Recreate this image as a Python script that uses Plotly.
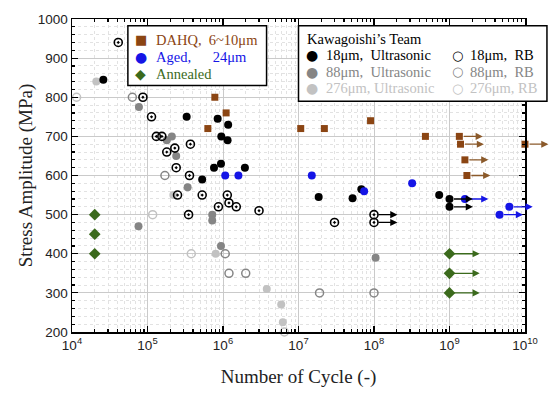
import math
import plotly.graph_objects as go

# ---------------- data ----------------
dahq_n = [6.3e5, 7.8e5, 1.1e6, 1.07e7, 2.2e7, 9.0e7, 4.8e8, 1.35e9, 1.4e9, 1.6e9, 1.7e9, 1.0e10]
dahq_s = [720, 800, 760, 720, 720, 740, 700, 700, 680, 640, 600, 680]
dahq_runout = [0, 0, 0, 0, 0, 0, 0, 1, 1, 1, 1, 1]

aged_n = [1.07e6, 1.6e6, 1.5e7, 7.4e7, 3.2e8, 1.6e9, 4.6e9, 6.2e9]
aged_s = [600, 600, 600, 560, 580, 540, 500, 520]
aged_runout = [0, 0, 0, 0, 0, 1, 1, 1]

ann_n = [2e4, 2e4, 2e4, 1e9, 1e9, 1e9]
ann_s = [500, 450, 400, 400, 350, 300]
ann_runout = [0, 0, 0, 1, 1, 1]

k18us_n = [2.6e4, 3.3e5, 5.3e5, 7.6e5, 8.5e5, 9.4e5, 9.5e5, 1.15e6, 1.17e6, 1.95e6,
           1.85e7, 5.2e7, 6.8e7, 7.3e8, 1e9, 1e9]
k18us_s = [845, 750, 590, 620, 745, 630, 700, 690, 730, 620, 545, 542, 565, 550, 540, 520]
k18us_runout = [0] * 14 + [1, 1]

k88us_n = [7.7e4, 7.6e4, 1.8e5, 2.1e5, 2.4e5, 3.4e5, 7.2e5, 7.2e5, 9.4e5, 1.05e8]
k88us_s = [775, 470, 690, 700, 650, 570, 500, 485, 420, 390]

k276us_n = [2.1e4, 2.2e5, 8e5, 3.8e6, 5.9e6, 6.2e6, 4.2e8]
k276us_s = [840, 550, 400, 310, 270, 225, 195]

k18rb_n = [4.1e4, 8.7e4, 1.13e5, 1.31e5, 1.55e5, 1.8e5, 2.3e5, 2.4e5, 3.6e5, 3.7e5, 2.5e5,
           5.3e5, 1.14e6, 8.7e5, 1.2e6, 1.5e6, 3e6, 3.5e5, 3.0e7, 1e8, 1e8]
k18rb_s = [940, 800, 750, 700, 700, 660, 670, 620, 600, 680, 550,
           550, 550, 520, 530, 520, 510, 500, 480, 500, 480]
k18rb_runout = [0] * 19 + [1, 1]

k88rb_n = [6.3e4, 1.7e5, 1.07e6, 1.2e6, 2e6, 1.9e7, 1e8]
k88rb_s = [800, 600, 400, 350, 350, 300, 300]

k276rb_n = [1.15e4, 1.17e5, 3.8e5, 6.5e6]
k276rb_s = [800, 500, 400, 200]

x_tickvals = [1e4, 1e5, 1e6, 1e7, 1e8, 1e9, 1e10]
x_ticktext = ["10<sup>4</sup>", "10<sup>5</sup>", "10<sup>6</sup>", "10<sup>7</sup>",
              "10<sup>8</sup>", "10<sup>9</sup>", "10<sup>10</sup>"]

legend1_labels = ["DAHQ,\u00a0\u00a06~10μm", "Aged,\u00a0\u00a0\u00a0\u00a0\u00a0\u00a024μm", "Annealed"]
legend2_title = "Kawagoishi’s Team"
legend2_us = ["18μm,\u00a0\u00a0Ultrasonic", "88μm,\u00a0\u00a0Ultrasonic", "276μm,\u00a0Ultrasonic"]
legend2_rb = ["18μm,\u00a0\u00a0RB", "88μm,\u00a0\u00a0RB", "276μm,\u00a0RB"]

# ---------------- style ----------------
BROWN = "#8B4513"
BROWN_ARROW = "#8B5A2B"
BLUE = "#1515e6"
GREEN = "#3b6a1c"
BLACK = "#000000"
GRAY = "#858585"
LGRAY = "#c2c2c2"
SERIF = "Liberation Serif, Times New Roman, serif"
SANS = "Liberation Sans, Arial, sans-serif"
GLYPH = "DejaVu Sans, sans-serif"

# plot-area geometry (px) used to place the hand-built legend boxes
L, R, T, B = 72, 24, 13, 63
W, H = 550, 396
PW, PH = W - L - R, H - T - B


def px(x):
    return (x - L) / PW


def py(y):
    return (H - B - y) / PH


fig = go.Figure()


def add(n, s, name, symbol, color, size, line_w=0):
    fig.add_trace(go.Scatter(
        x=n, y=s, mode="markers", name=name, showlegend=False, cliponaxis=False,
        marker=dict(symbol=symbol, color=color, size=size, line=dict(color=color, width=line_w)),
    ))


add(k276us_n, k276us_s, legend2_us[2], "circle", LGRAY, 8)
add(k276rb_n, k276rb_s, legend2_rb[2], "circle-open", LGRAY, 8, 1.5)
add(k88us_n, k88us_s, legend2_us[1], "circle", GRAY, 8)
add(k88rb_n, k88rb_s, legend2_rb[1], "circle-open", GRAY, 8, 1.5)
add(k18rb_n, k18rb_s, legend2_rb[0], "circle-open-dot", BLACK, 8, 1.6)
add(k18us_n, k18us_s, legend2_us[0], "circle", BLACK, 8)
add(dahq_n, dahq_s, legend1_labels[0], "square", BROWN, 7)
add(aged_n, aged_s, legend1_labels[1], "circle", BLUE, 8)
add(ann_n, ann_s, legend1_labels[2], "diamond", GREEN, 9)

annotations = []

# ---- run-out arrows ----
ARROW_LEN = 0.31
for n, s, r, c, alen in [
    (dahq_n, dahq_s, dahq_runout, BROWN_ARROW, ARROW_LEN),
    (aged_n, aged_s, aged_runout, BLUE, ARROW_LEN),
    (ann_n, ann_s, ann_runout, GREEN, 0.40),
    (k18us_n, k18us_s, k18us_runout, BLACK, ARROW_LEN),
    (k18rb_n, k18rb_s, k18rb_runout, BLACK, ARROW_LEN),
]:
    for xi, yi, ri in zip(n, s, r):
        if ri:
            lx = math.log10(xi)
            annotations.append(dict(
                x=lx + alen, y=yi, ax=lx, ay=yi, xref="x", yref="y", axref="x", ayref="y",
                showarrow=True, arrowhead=2, arrowsize=1.1, arrowwidth=1.3, arrowcolor=c,
                startstandoff=3, text="",
            ))


# ---- hand-built legends (text + glyph keys) ----
def txt(x, y, text, color, size=14.5, family=SERIF, xanchor="left"):
    annotations.append(dict(
        x=px(x), y=py(y), xref="paper", yref="paper", text=text, showarrow=False,
        xanchor=xanchor, yanchor="middle", font=dict(family=family, size=size, color=color),
    ))


rows1 = [34, 52, 69]
for lab, col, g, gs, y in zip(legend1_labels, [BROWN, BLUE, GREEN], ["■", "●", "◆"], [13, 14, 14], rows1):
    txt(141, y, g, col, gs, GLYPH, "center")
    txt(154, y, lab, col)

txt(306, 33, legend2_title, BLACK)
rows2 = [50, 67, 84]
for lab, col, y in zip(legend2_us, [BLACK, GRAY, LGRAY], rows2):
    txt(313, y, "●", col, 14, GLYPH, "center")
    txt(325, y, lab, col)
for lab, col, y in zip(legend2_rb, [BLACK, GRAY, LGRAY], rows2):
    txt(458, y, "<b>○</b>", col, 13, GLYPH, "center")
    txt(469, y, lab, col)

shapes = [
    dict(type="rect", xref="paper", yref="paper", x0=px(128), x1=px(267), y0=py(81), y1=py(20),
         fillcolor="white", line=dict(color="black", width=1.5), layer="above"),
    dict(type="rect", xref="paper", yref="paper", x0=px(299), x1=px(548), y0=py(97), y1=py(20),
         fillcolor="white", line=dict(color="black", width=1.5), layer="above"),
]

axis_common = dict(
    showline=True, linecolor="black", linewidth=1.5, mirror="allticks",
    ticks="inside", ticklen=6, tickwidth=1.2, tickcolor="black",
    showgrid=True, gridcolor="#cacaca", gridwidth=1,
    zeroline=False,
    tickfont=dict(family=SANS, size=13.5, color="#222"),
)

fig.update_xaxes(
    type="log", range=[4, 10], tickvals=x_tickvals, ticktext=x_ticktext,
    minor=dict(dtick="D1", ticks="inside", ticklen=3, tickcolor="black",
               showgrid=True, gridcolor="#e2e2e2", griddash="dot"),
    title=dict(text="Number of Cycle (-)", font=dict(family=SERIF, size=19, color="#222"), standoff=18),
    **axis_common,
)
fig.update_yaxes(
    range=[200, 1000], dtick=100,
    minor=dict(dtick=20, ticks="inside", ticklen=3, tickcolor="black",
               showgrid=True, gridcolor="#e2e2e2", griddash="dot"),
    title=dict(text="Stress Amplitude (MPa)", font=dict(family=SERIF, size=19, color="#222"), standoff=0),
    **axis_common,
)

fig.update_layout(
    width=W, height=H,
    margin=dict(l=L, r=R, t=T, b=B),
    paper_bgcolor="white", plot_bgcolor="white",
    showlegend=False,
    hovermode=False,
    annotations=annotations,
    shapes=shapes,
)

fig.write_html(
    "out.html",
    config={"displayModeBar": False, "staticPlot": True},
    post_script="document.body.style.margin='0';document.body.style.overflow='hidden';",
)
